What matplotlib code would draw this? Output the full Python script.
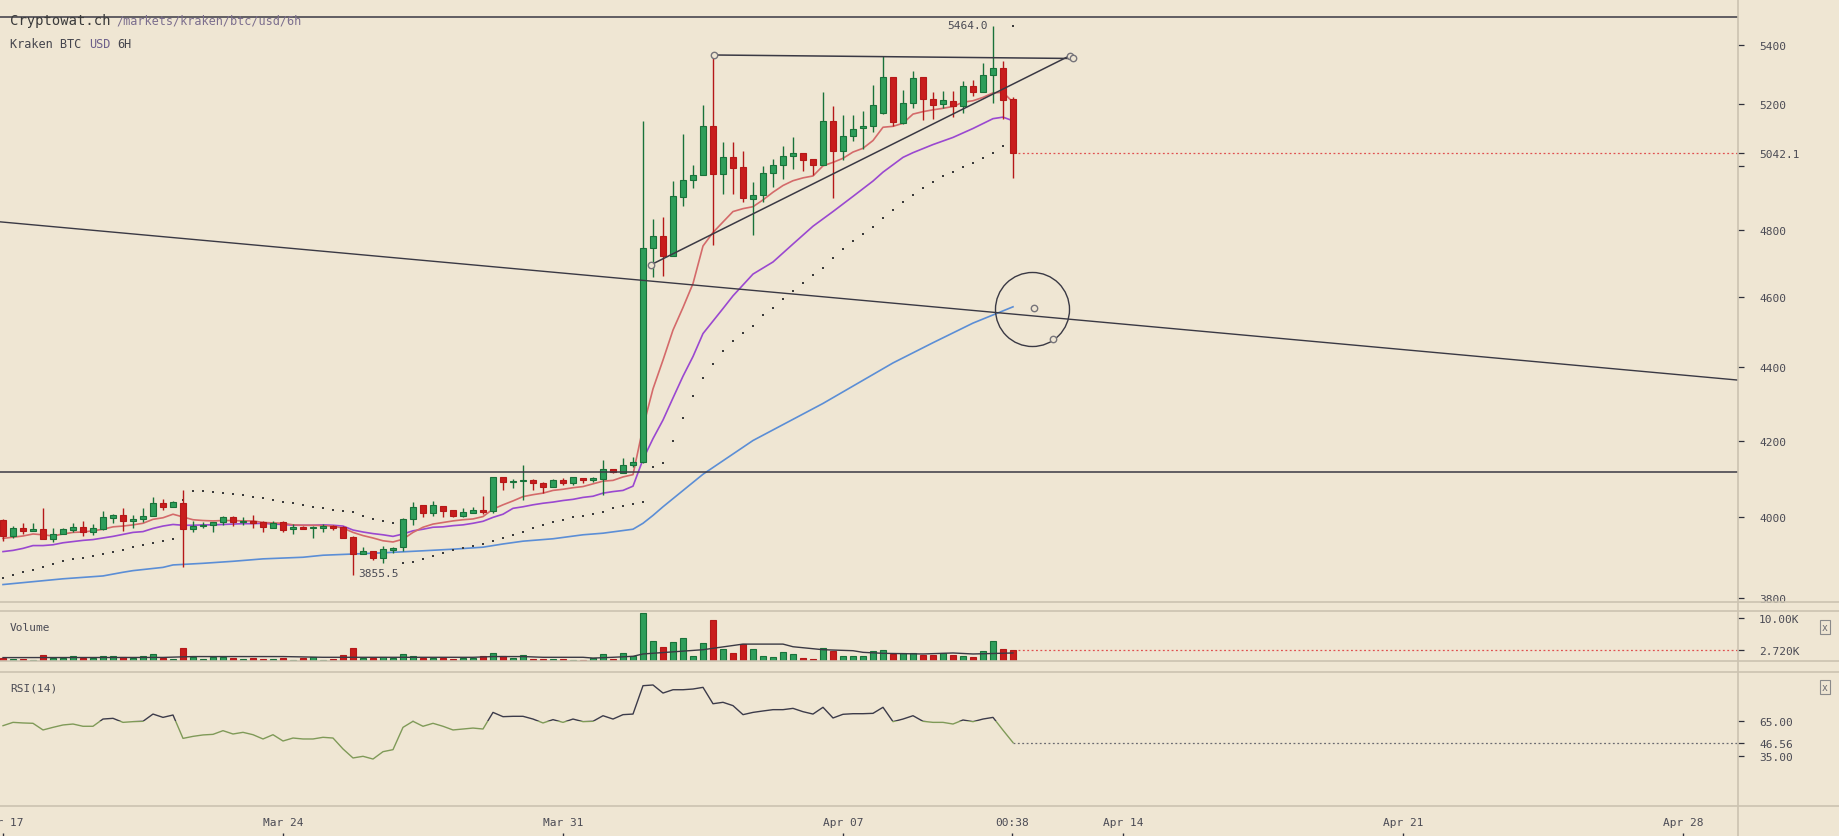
import numpy as np
import matplotlib.pyplot as plt
from matplotlib.lines import Line2D
from matplotlib.patches import Rectangle
from matplotlib.ticker import NullLocator

# ---- values: Kraken BTC/USD, 6h candles, index 0 = Mar 17 00:00 ----
OPEN = [3993, 3952, 3972, 3966, 3970, 3946, 3958, 3969, 3975, 3964,
        3971, 3999, 4005, 3991, 3997, 4003, 4036, 4026, 4036, 3970,
        3977, 3980, 3987, 4000, 3987, 3992, 3987, 3972, 3987, 3970,
        3975, 3972, 3972, 3979, 3976, 3951, 3909, 3915, 3899, 3917,
        3925, 3995, 4031, 4012, 4028, 4018, 4004, 4012, 4018, 4015,
        4103, 4090, 4093, 4095, 4087, 4077, 4095, 4087, 4100, 4095,
        4098, 4126, 4115, 4136, 4142, 4745, 4781, 4723, 4901, 4954,
        4970, 5127, 4973, 5027, 4995, 4895, 4907, 4976, 5002, 5030,
        5040, 5021, 5002, 5143, 5046, 5094, 5120, 5127, 5170, 5289,
        5137, 5202, 5289, 5216, 5199, 5209, 5192, 5259, 5239, 5296,
        5322, 5216]
HIGH = [3996, 3977, 3986, 3985, 4023, 3972, 3972, 3986, 3990, 3982,
        4015, 4008, 4023, 4005, 4023, 4053, 4046, 4043, 4069, 3992,
        3987, 3989, 4003, 4003, 4000, 4006, 3992, 3990, 3990, 3982,
        3977, 3977, 3982, 3981, 3979, 3954, 3925, 3915, 3927, 3925,
        3998, 4039, 4031, 4041, 4028, 4018, 4023, 4026, 4054, 4103,
        4103, 4098, 4134, 4098, 4090, 4098, 4100, 4103, 4100, 4103,
        4148, 4126, 4153, 4155, 5143, 4833, 4839, 4951, 5101, 5003,
        5196, 5364, 5075, 5075, 5046, 4948, 4998, 5021, 5062, 5091,
        5040, 5021, 5239, 5192, 5163, 5163, 5176, 5262, 5360, 5289,
        5245, 5309, 5289, 5239, 5242, 5242, 5276, 5279, 5336, 5464,
        5343, 5222]
LOW = [3941, 3949, 3959, 3966, 3945, 3938, 3957, 3964, 3953, 3956,
       3969, 3985, 3966, 3972, 3987, 4003, 4018, 4026, 3875, 3962,
       3972, 3964, 3981, 3979, 3981, 3972, 3964, 3972, 3964, 3959,
       3970, 3949, 3962, 3968, 3947, 3855.5, 3909, 3893, 3886, 3911,
       3916, 3980, 4000, 4003, 4000, 4000, 4002, 4010, 4008, 4010,
       4069, 4075, 4044, 4070, 4062, 4077, 4082, 4082, 4087, 4090,
       4057, 4114, 4115, 4131, 4140, 4659, 4662, 4723, 4873, 4929,
       4970, 4754, 4910, 4910, 4885, 4784, 4888, 4932, 4957, 4989,
       4983, 4970, 5002, 4898, 5018, 5078, 5055, 5107, 5166, 5127,
       5134, 5186, 5147, 5150, 5186, 5156, 5170, 5226, 5239, 5202,
       5150, 4960]
CLOSE = [3952, 3972, 3965, 3970, 3946, 3959, 3970, 3975, 3963, 3972,
         4000, 4005, 3991, 3997, 4003, 4036, 4026, 4038, 3970, 3977,
         3980, 3987, 4000, 3987, 3991, 3985, 3975, 3985, 3967, 3975,
         3971, 3975, 3977, 3974, 3949, 3909, 3915, 3899, 3920, 3922,
         3995, 4026, 4012, 4031, 4017, 4004, 4013, 4018, 4013, 4103,
         4090, 4093, 4095, 4087, 4077, 4095, 4087, 4103, 4095, 4100,
         4126, 4116, 4136, 4142, 4745, 4781, 4723, 4904, 4954, 4970,
         5127, 4973, 5027, 4994, 4898, 4907, 4976, 5002, 5030, 5040,
         5018, 5002, 5143, 5046, 5094, 5117, 5127, 5196, 5289, 5140,
         5202, 5286, 5216, 5196, 5212, 5192, 5259, 5239, 5296, 5322,
         5212, 5042.1]

# volume in thousands
VOLUME = [0.78, 0.47, 0.47, 0.32, 1.47, 0.86, 0.86, 1.16, 0.86, 0.78,
          1.16, 1.24, 1.01, 0.70, 1.16, 1.62, 0.86, 0.55, 3.00, 1.01,
          0.55, 1.09, 0.93, 0.70, 0.55, 0.78, 0.55, 0.47, 0.78, 0.32,
          0.70, 0.93, 0.40, 0.63, 1.47, 3.07, 0.70, 0.70, 0.93, 0.70,
          1.62, 1.16, 0.86, 0.86, 0.86, 0.55, 0.86, 0.86, 1.16, 1.93,
          1.24, 0.86, 1.47, 0.55, 0.55, 0.55, 0.55, 0.32, 0.32, 0.78,
          1.70, 0.55, 1.93, 1.24, 11.10, 4.60, 3.30, 4.45, 5.52, 1.24,
          4.22, 9.50, 2.85, 1.93, 3.92, 2.85, 1.24, 0.93, 2.16, 1.70,
          0.78, 0.55, 3.00, 2.46, 1.24, 1.24, 1.24, 2.39, 2.54, 1.70,
          1.93, 1.93, 1.55, 1.55, 1.93, 1.55, 1.16, 0.93, 2.31, 4.60,
          2.85, 2.72]
VOL_MA_IDX = [0, 16, 19, 28, 32, 47, 49, 52, 54, 58, 59, 61, 63, 64,
              70, 74, 78, 79, 82, 85, 86, 88, 92, 95, 97, 101]
VOL_MA = [0.86, 0.90, 1.10, 1.10, 0.93, 0.93, 1.10, 1.10, 0.93, 0.93, 0.75, 0.93, 1.16, 1.70,
          2.69, 3.99, 3.99, 3.38, 2.69, 2.46, 2.08, 1.85, 1.70, 1.93, 1.70, 1.93]

RSI = [60.8, 63.6, 63.1, 62.8, 57.2, 59.4, 61.4, 62.2, 60.3, 60.3,
       66.4, 67.0, 63.6, 64.2, 64.5, 70.6, 67.8, 69.8, 50.1, 51.8,
       53.0, 53.5, 56.6, 53.8, 55.2, 53.2, 49.6, 53.2, 47.9, 50.4,
       49.6, 49.6, 51.0, 50.4, 41.2, 33.6, 35.0, 32.7, 38.9, 40.6,
       59.4, 64.5, 60.3, 62.8, 60.3, 57.2, 58.0, 58.8, 58.0, 72.0,
       68.4, 68.7, 68.7, 66.4, 63.1, 65.9, 63.6, 66.4, 64.2, 64.5,
       69.2, 66.4, 70.1, 70.6, 94.5, 95.1, 88.3, 91.1, 91.1, 91.7,
       93.1, 79.3, 80.5, 77.7, 70.1, 72.0, 73.2, 74.3, 74.3, 75.4,
       72.6, 70.6, 76.3, 67.3, 70.4, 70.9, 70.9, 71.2, 76.3, 64.2,
       66.4, 69.2, 64.5, 63.6, 63.6, 62.2, 65.6, 64.2, 66.4, 67.8,
       57.0, 46.56]
RSI_SPLIT = 65

SAR = [3849, 3856, 3863, 3869, 3876, 3883, 3891, 3895, 3898, 3903,
       3908, 3913, 3918, 3925, 3930, 3936, 3940, 3945, 4045, 4068,
       4068, 4065, 4062, 4060, 4057, 4053, 4049, 4045, 4039, 4036,
       4031, 4027, 4025, 4019, 4016, 4013, 4003, 3996, 3991, 3986,
       3886, 3888, 3896, 3903, 3910, 3918, 3924, 3929, 3934, 3940,
       3949, 3956, 3964, 3973, 3981, 3989, 3994, 4000, 4004, 4009,
       4014, 4023, 4029, 4035, 4040, 4131, 4140, 4200, 4260, 4320,
       4370, 4410, 4445, 4475, 4497, 4518, 4547, 4569, 4595, 4618,
       4642, 4666, 4686, 4716, 4743, 4768, 4788, 4810, 4836, 4863,
       4886, 4908, 4930, 4950, 4968, 4981, 4996, 5010, 5025, 5042,
       5064, 5464]

EMA_RED = [3947, 3950, 3953, 3958, 3956, 3953, 3958, 3962, 3963, 3966,
           3970, 3976, 3978, 3981, 3985, 3995, 3999, 4008, 4001, 3994,
           3992, 3991, 3992, 3992, 3991, 3991, 3987, 3986, 3985, 3981,
           3980, 3980, 3979, 3978, 3973, 3962, 3954, 3948, 3941, 3938,
           3945, 3962, 3975, 3983, 3987, 3991, 3994, 3996, 4002, 4021,
           4032, 4042, 4053, 4058, 4062, 4069, 4072, 4076, 4079, 4086,
           4093, 4095, 4104, 4110, 4235, 4340, 4420, 4505, 4570, 4640,
           4752, 4793, 4825, 4857, 4866, 4872, 4893, 4917, 4938, 4953,
           4962, 4968, 5000, 5011, 5024, 5044, 5056, 5081, 5124, 5127,
           5137, 5167, 5175, 5181, 5186, 5192, 5206, 5211, 5222, 5237,
           5239, 5206]

EMA_PURPLE_IDX = list(range(0, 71)) + [72, 73, 75, 77, 79, 81, 83, 85, 87, 88,
                                       90, 91, 93, 95, 97, 99, 100, 101]
EMA_PURPLE = [3914, 3917, 3922, 3929, 3929, 3931, 3936, 3939, 3942, 3944,
              3948, 3952, 3957, 3962, 3964, 3972, 3978, 3982, 3980, 3980,
              3981, 3981, 3982, 3983, 3984, 3984, 3985, 3983, 3982, 3980,
              3980, 3980, 3981, 3980, 3978, 3968, 3963, 3959, 3956, 3952,
              3958, 3966, 3970, 3975, 3976, 3979, 3981, 3985, 3990, 4000,
              4008, 4023, 4027, 4032, 4036, 4039, 4043, 4046, 4051, 4054,
              4062, 4066, 4069, 4080, 4150, 4205, 4255, 4315, 4375, 4430,
              4495, 4567, 4604, 4668, 4704, 4758, 4812, 4857, 4904, 4952,
              4980, 5027, 5042, 5068, 5091, 5120, 5152, 5157, 5145]

EMA_BLUE_IDX = [0, 3, 6, 10, 12, 13, 16, 17, 20, 23, 26, 28, 30, 32, 38, 42, 45,
                48, 50, 52, 55, 58, 60, 63, 64, 65, 66, 70, 75, 82, 89, 93, 97, 101]
EMA_BLUE = [3833, 3840, 3847, 3854, 3863, 3867, 3875, 3881, 3885, 3890, 3896, 3898,
            3900, 3905, 3911, 3916, 3920, 3925, 3933, 3940, 3946, 3956, 3960, 3970,
            3985, 4005, 4027, 4111, 4200, 4300, 4412, 4469, 4525, 4572]

# axis ticks
PRICE_TICKS = [3800, 4000, 4200, 4400, 4600, 4800, 5000, 5200, 5400]
HIDDEN_PRICE_LABEL = 5000
VOL_TICKS = [10.0]
RSI_TICKS = [65, 35]
DATE_TICKS = [0, 7, 14, 21, 28, 35, 42]          # days after Mar 17
DATE_LABELS = ['Mar 17', 'Mar 24', 'Mar 31', 'Apr 07', 'Apr 14', 'Apr 21', 'Apr 28']
NOW_DAY = 25.23
NOW_LABEL = '00:38'

# user drawings, (day, price)
HLINES = [5497, 4117.6]
TREND_DOWN_X, TREND_DOWN_Y = [-0.075, 43.375], [4825.4, 4364.2]
TRI_TOP_X, TRI_TOP_Y = [17.775, 26.75], [5364.5, 5352.6]
TRI_RISE_X, TRI_RISE_Y = [16.2, 26.675], [4695.7, 5362.4]
CIRCLE_X, CIRCLE_Y = 25.725, 4566.6
HANDLE_X = [16.2, 17.775, 26.675, 26.75, 25.775, 26.25]
HANDLE_Y = [4695.7, 5364.5, 5362.4, 5352.6, 4568.3, 4479.4]

# ---- style ----
W, H, DPI = 1839, 837, 100
BG = '#efe6d3'
SEP = '#cbc3b1'
TXT = '#4a4a54'
DARK = '#3a3944'
G_FILL, G_EDGE = '#2e9e5b', '#19723a'
R_FILL, R_EDGE = '#c91d1d', '#b51818'
RED_DOT = '#e05050'
XMIN, XMAX = -0.075, 43.375
RIGHT = 1738

plt.rcParams['font.family'] = ['DejaVu Sans Mono']

fig = plt.figure(figsize=(W / DPI, H / DPI), dpi=DPI, facecolor=BG)


def panel(top, bottom):
    ax = fig.add_axes([0, 1 - bottom / H, RIGHT / W, (bottom - top) / H], facecolor=BG)
    for s in ax.spines.values():
        s.set_visible(False)
    ax.set_xlim(XMIN, XMAX)
    ax.tick_params(axis='x', bottom=False, labelbottom=False)
    ax.yaxis.tick_right()
    ax.tick_params(axis='y', which='major', direction='out', length=4.3, width=0.9,
                   color='#2f2f3a', pad=10.8, labelsize=8, labelcolor=TXT)
    return ax


days = np.arange(len(CLOSE)) / 4
o, h, l, c = (np.array(v, dtype=float) for v in (OPEN, HIGH, LOW, CLOSE))
up = c >= o
fill = np.where(up, G_FILL, R_FILL)
edge = np.where(up, G_EDGE, R_EDGE)

# ---- price panel ----
ax = panel(0, 602.5)
ax.set_yscale('log')
ax.set_ylim(3791.97, 5558.6)

ax.plot(np.array(EMA_BLUE_IDX) / 4, EMA_BLUE, color='#5b8ed6', lw=1.2, zorder=2)
ax.plot(np.array(EMA_PURPLE_IDX) / 4, EMA_PURPLE, color='#9a48d0', lw=1.2, zorder=2)
ax.plot(days, EMA_RED, color='#d46a6a', lw=1.2, zorder=2)
ax.plot(days, SAR, ls='none', marker='s', ms=1.6, mew=0, color='#3b3b3b', zorder=2)

ax.vlines(days, l, h, colors=edge, lw=1.0, zorder=3)
ax.bar(days, np.abs(c - o), bottom=np.minimum(o, c), width=0.16, color=fill,
       edgecolor=edge, linewidth=0.8, zorder=4)

for y in HLINES:
    ax.axhline(y, color=DARK, lw=1.1, zorder=5)
ax.plot(TREND_DOWN_X, TREND_DOWN_Y, color=DARK, lw=1.0, zorder=5)
ax.plot(TRI_TOP_X, TRI_TOP_Y, color=DARK, lw=1.1, zorder=5)
ax.plot(TRI_RISE_X, TRI_RISE_Y, color=DARK, lw=1.1, zorder=5)
ax.plot([CIRCLE_X], [CIRCLE_Y], marker='o', ms=53.3, mfc='none', mec=DARK, mew=1.0, zorder=5)
ax.plot(HANDLE_X, HANDLE_Y, ls='none', marker='o', ms=4.6, mfc=BG, mec='#76747a',
        mew=1.0, zorder=6)

ax.hlines(CLOSE[-1], days[-1] + 0.12, XMAX, colors=RED_DOT, linestyles=(0, (1.5, 2)),
          lw=0.9, zorder=5)

i_hi, i_lo = int(np.argmax(h)), int(np.argmin(l))
ax.annotate(f'{h[i_hi]:.1f}', xy=(days[i_hi], h[i_hi]), xytext=(-5, 1),
            textcoords='offset pixels', ha='right', va='center', fontsize=8, color=TXT)
ax.annotate(f'{l[i_lo]:.1f}', xy=(days[i_lo], l[i_lo]), xytext=(5, 2),
            textcoords='offset pixels', ha='left', va='center', fontsize=8, color=TXT)

ticks = PRICE_TICKS + [CLOSE[-1]]
labels = ['' if t == HIDDEN_PRICE_LABEL else str(t) for t in PRICE_TICKS] + [f'{CLOSE[-1]:.1f}']
ax.set_yticks(ticks, labels=labels)
ax.yaxis.set_minor_locator(NullLocator())
ax.yaxis.get_major_ticks()[-1].tick2line.set_color(RED_DOT)

# ---- volume panel ----
axv = panel(612.3, 662.3)
axv.set_ylim(0, 11.6)
axv.bar(days, VOLUME, width=0.16, color=fill, edgecolor=edge, linewidth=0.8, zorder=3)
axv.plot(np.array(VOL_MA_IDX) / 4, VOL_MA, color=DARK, lw=1.0, zorder=4)
axv.hlines(VOLUME[-1], days[-1] + 0.12, XMAX, colors=RED_DOT, linestyles=(0, (1.5, 2)),
           lw=0.9, zorder=4)
axv.set_yticks(VOL_TICKS + [VOLUME[-1]],
               labels=[f'{t:.2f}K' for t in VOL_TICKS] + [f'{VOLUME[-1]:.3f}K'])
axv.yaxis.get_major_ticks()[-1].tick2line.set_color(RED_DOT)

# ---- RSI panel ----
axr = panel(672.5, 807.3)
axr.set_ylim(-7.13, 106.46)
hi_line, = axr.plot(days, RSI, color='#3c3b4a', lw=1.0, zorder=3)
lo_line, = axr.plot(days, RSI, color='#7f9a58', lw=1.0, zorder=3)
hi_line.set_clip_path(Rectangle((XMIN, RSI_SPLIT), XMAX - XMIN, 200, transform=axr.transData))
lo_line.set_clip_path(Rectangle((XMIN, -200), XMAX - XMIN, 200 + RSI_SPLIT,
                                transform=axr.transData))
axr.hlines(RSI[-1], days[-1], XMAX, colors='#6a6a70', linestyles=(0, (1.5, 2)), lw=0.9)
axr.set_yticks(RSI_TICKS[:1] + [RSI[-1]] + RSI_TICKS[1:],
               labels=[f'{t:.2f}' for t in RSI_TICKS[:1] + [RSI[-1]] + RSI_TICKS[1:]])

# ---- date strip ----
axx = fig.add_axes([0, 0, RIGHT / W, (837 - 807.3) / H], facecolor=BG)
axx.set_xlim(XMIN, XMAX)
axx.set_ylim(0, 1)
axx.axis('off')
for d, lab in zip(DATE_TICKS + [NOW_DAY], DATE_LABELS + [NOW_LABEL]):
    axx.vlines(d, 0, 0.11, colors='#2f2f3a', lw=1.0)
    axx.text(d, 0.47, lab, ha='center', va='center', fontsize=8, color=TXT)

# ---- frame lines, captions ----
for y in (602.5, 612.3, 662.3, 672.5, 807.3):
    fig.add_artist(Line2D([0, 1], [1 - y / H] * 2, color=SEP, lw=1.2, zorder=10))
fig.add_artist(Line2D([RIGHT / W] * 2, [0, 1], color=SEP, lw=1.2, zorder=10))

fig.text(10 / W, 1 - 25 / H, 'Cryptowat.ch', fontsize=10, color='#3b3b3b', va='baseline')
fig.text(116 / W, 1 - 25 / H, '/markets/kraken/btc/usd/6h', fontsize=8.6, color='#7c6f8e',
         va='baseline')
fig.text(10 / W, 1 - 47.7 / H, 'Kraken BTC', fontsize=8.6, color='#45454d', va='baseline')
fig.text(88.8 / W, 1 - 47.7 / H, 'USD', fontsize=8.6, color='#6c5f8a', va='baseline')
fig.text(117.5 / W, 1 - 47.7 / H, '6H', fontsize=8.6, color='#45454d', va='baseline')
fig.text(10 / W, 1 - 628 / H, 'Volume', fontsize=8, color=TXT, va='center')
fig.text(10 / W, 1 - 689 / H, 'RSI(14)', fontsize=8, color=TXT, va='center')
for y in (627.7, 688):
    fig.text(1825 / W, 1 - y / H, 'x', fontsize=7, color='#6a6a70', ha='center', va='center',
             bbox=dict(boxstyle='square,pad=0.2', fc=BG, ec='#8a8a8a', lw=0.8))

fig.savefig('out.png', dpi=DPI, facecolor=BG)
